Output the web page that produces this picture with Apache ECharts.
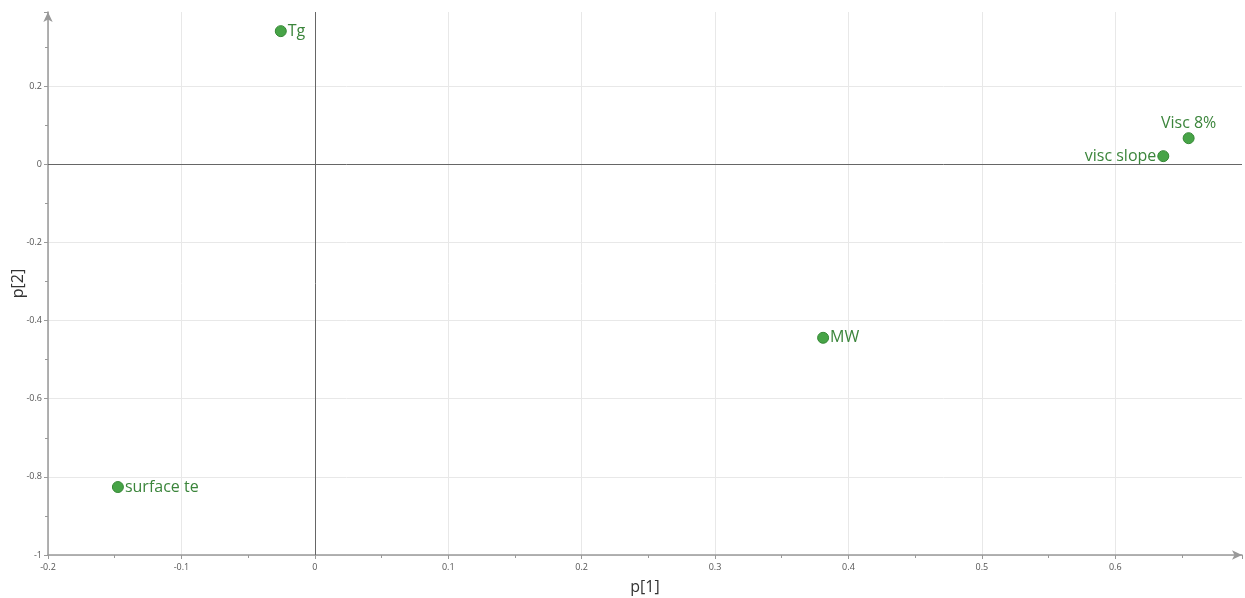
<!DOCTYPE html>
<html>
<head>
<meta charset="utf-8">
<script src="https://cdn.jsdelivr.net/npm/echarts@6/dist/echarts.min.js"></script>
<style>
html, body { margin: 0; padding: 0; background: #fff; }
#chart { width: 1245px; height: 598px; }
</style>
</head>
<body>
<div id="chart"></div>
<script>
// loadings p[1] vs p[2]
const names = ['Tg', 'surface te', 'MW', 'Visc 8%', 'visc slope'];
const p1 = [-0.0255, -0.1476, 0.381, 0.655, 0.636];
const p2 = [0.341, -0.826, -0.444, 0.067, 0.021];
const labelPos = ['right', 'right', 'right', 'top', 'left'];

function getdata() {
    let data = [];
    for (let i = 0; i < names.length; i++) {
        data.push({
            name: names[i],
            value: [p1[i], p2[i]],
            label: {position: labelPos[i]}
        });
    }
    return data;
}

const axisCommon = {
    type: 'value',
    nameLocation: 'middle',
    nameMoveOverlap: false,
    nameTextStyle: {fontSize: 16, color: '#333', fontFamily: 'Open Sans'},
    axisLine: {
        onZero: false,
        symbol: ['none', 'arrow'],
        symbolSize: [7, 10],
        lineStyle: {color: '#999', width: 1.5}
    },
    axisTick: {length: 4, lineStyle: {color: '#999'}},
    minorTick: {show: true, splitNumber: 2, length: 3, lineStyle: {color: '#999'}},
    axisLabel: {fontSize: 9, color: '#555', showMaxLabel: false, fontFamily: 'Open Sans'},
    splitLine: {show: true, showMaxLine: false, lineStyle: {color: '#e8e8e8'}}
};

echarts.init(document.getElementById('chart')).setOption({
    animation: false,
    grid: {left: 48, right: 3, top: 12, bottom: 43, outerBoundsMode: 'none', containLabel: false},
    xAxis: Object.assign({}, axisCommon, {
        name: 'p[1]',
        nameGap: 24,
        min: -0.2,
        max: 0.695,
        interval: 0.1,
        axisLabel: Object.assign({}, axisCommon.axisLabel, {margin: 8})
    }),
    yAxis: Object.assign({}, axisCommon, {
        name: 'p[2]',
        nameGap: 22,
        min: -1,
        max: 0.39,
        interval: 0.2,
        axisLabel: Object.assign({}, axisCommon.axisLabel, {margin: 6})
    }),
    series: [{
        type: 'scatter',
        symbolSize: 11,
        itemStyle: {color: '#47a447', borderColor: '#368836', borderWidth: 1, opacity: 1},
        label: {
            show: true,
            formatter: p => p.name,
            fontSize: 16,
            color: '#3b853b',
            distance: 1,
            fontFamily: 'Open Sans'
        },
        data: getdata(),
        markLine: {
            silent: true,
            symbol: 'none',
            label: {show: false},
            lineStyle: {color: '#666', width: 1, type: 'solid'},
            data: [{xAxis: 0}, {yAxis: 0}]
        }
    }]
});
</script>
</body>
</html>
